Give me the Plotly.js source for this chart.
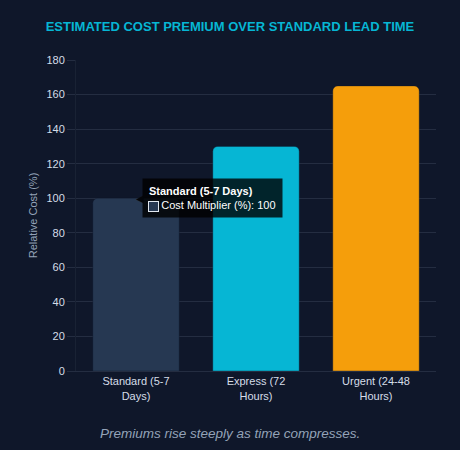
<!DOCTYPE html>
<html>
<head>
<meta charset="utf-8">
<script src="https://cdn.plot.ly/plotly-3.0.1.min.js"></script>
<style>
  html, body { margin: 0; padding: 0; background: #0f172a; }
  #chart { width: 460px; height: 450px; }
</style>
</head>
<body>
<div id="chart"></div>
<script>
// ── Data ─────────────────────────────────────────────────────────────────────
const categories = ['Standard (5-7 Days)', 'Express (72 Hours)', 'Urgent (24-48 Hours)'];
const tickLabels = ['Standard (5-7<br>Days)', 'Express (72<br>Hours)', 'Urgent (24-48<br>Hours)'];
const costMultiplier = [100, 130, 165];
const barColors = ['#263852', '#06b6d4', '#f59e0b'];
const yTicks = [0, 20, 40, 60, 80, 100, 120, 140, 160, 180];

const FONT = 'Liberation Sans, Arial, sans-serif';
const GRID = 'rgba(148,163,184,0.16)';
const W = 460, H = 450;
const M = { t: 60, r: 24, b: 79, l: 76 };

const trace = {
  type: 'bar',
  x: categories,
  y: costMultiplier,
  marker: {
    color: barColors,
    cornerradius: 5,
    line: { color: 'rgba(15,23,42,0.35)', width: 1 },
  },
  hoverinfo: 'skip',
};

// tooltip pinned on the first bar, as in the screenshot
const tipIdx = 0;

const layout = {
  width: W,
  height: H,
  paper_bgcolor: '#0f172a',
  plot_bgcolor: '#0f172a',
  font: { family: FONT, size: 11, color: '#d5dde8' },
  margin: { t: M.t, r: M.r, b: M.b, l: M.l, pad: 0 },
  showlegend: false,
  bargap: 0.28,
  title: {
    text: '<b>ESTIMATED COST PREMIUM OVER STANDARD LEAD TIME</b>',
    font: { family: 'Arial, Liberation Sans, sans-serif', size: 13, color: '#06b6d4' },
    x: 0.5,
    xanchor: 'center',
    y: 0.942,
    yanchor: 'middle',
  },
  xaxis: {
    type: 'category',
    tickvals: categories,
    ticktext: tickLabels,
    tickfont: { size: 11, color: '#d5dde8' },
    showgrid: false,
    zeroline: false,
    showline: true,
    linecolor: GRID,
    linewidth: 1,
    ticks: '',
  },
  yaxis: {
    range: [0, 180],
    tickvals: yTicks,
    tickfont: { size: 11, color: '#d5dde8' },
    showgrid: true,
    gridcolor: GRID,
    gridwidth: 1,
    zeroline: false,
    showline: true,
    linecolor: 'rgba(148,163,184,0.08)',
    ticks: 'outside',
    ticklen: 8,
    tickcolor: GRID,
    title: {
      text: 'Relative Cost (%)',
      standoff: 6,
      font: { size: 11, color: '#94a3b8' },
    },
  },
  annotations: [
    // tooltip box
    {
      x: categories[tipIdx],
      y: costMultiplier[tipIdx],
      xref: 'x',
      yref: 'y',
      xanchor: 'left',
      yanchor: 'middle',
      xshift: 6,
      showarrow: false,
      align: 'left',
      bgcolor: 'rgba(0,0,0,0.8)',
      borderpad: 6,
      bordercolor: 'rgba(0,0,0,0)',
      font: { family: FONT, size: 11, color: '#ffffff' },
      text: '<b>' + categories[tipIdx] + '</b><br>&nbsp;&nbsp;&nbsp;&nbsp;Cost Multiplier (%): ' + costMultiplier[tipIdx],
    },
    // tooltip caret
    {
      x: categories[tipIdx],
      y: costMultiplier[tipIdx],
      xref: 'x',
      yref: 'y',
      xanchor: 'center',
      yanchor: 'middle',
      xshift: 4,
      showarrow: false,
      font: { size: 10, color: '#03050a' },
      text: '◀',
    },
    // tooltip swatch
    {
      x: categories[tipIdx],
      y: costMultiplier[tipIdx],
      xref: 'x',
      yref: 'y',
      xanchor: 'left',
      yanchor: 'middle',
      xshift: 12,
      yshift: -8,
      showarrow: false,
      width: 9,
      height: 9,
      bgcolor: barColors[tipIdx],
      bordercolor: '#e2e8f0',
      borderwidth: 1,
      borderpad: 0,
      text: '',
    },
    // caption, centred on the page rather than the plot area
    {
      x: (W / 2 - M.l) / (W - M.l - M.r),
      y: -(433 - (H - M.b)) / (H - M.t - M.b),
      xref: 'paper',
      yref: 'paper',
      showarrow: false,
      xanchor: 'center',
      yanchor: 'middle',
      font: { family: FONT, size: 13.5, color: '#94a3b8' },
      text: '<i>Premiums rise steeply as time compresses.</i>',
    },
  ],
};

Plotly.newPlot('chart', [trace], layout, { displayModeBar: false, staticPlot: true });
</script>
</body>
</html>
